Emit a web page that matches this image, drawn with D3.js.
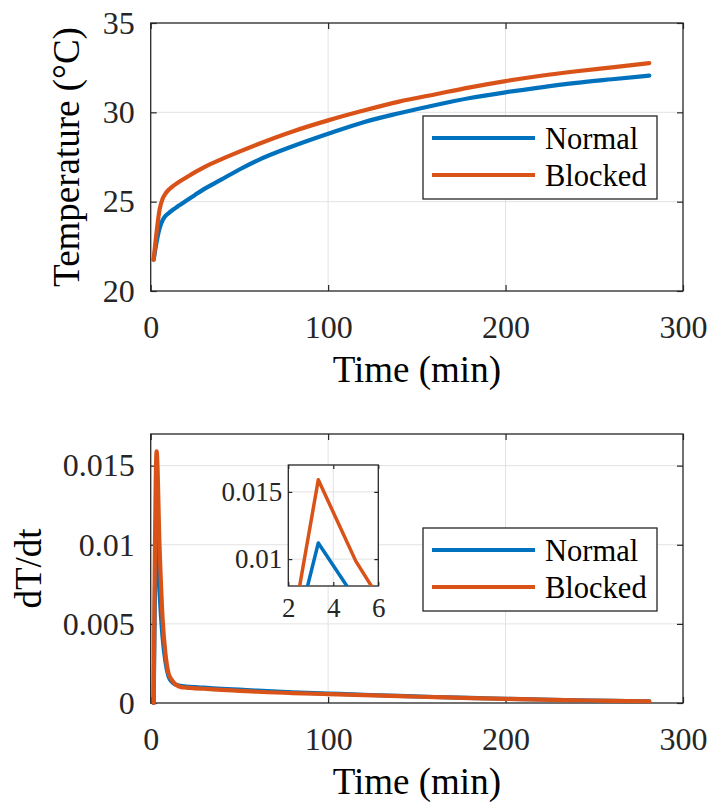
<!DOCTYPE html>
<html>
<head>
<meta charset="utf-8">
<script src="https://cdn.jsdelivr.net/npm/d3@7"></script>
</head>
<body style="margin:0">
<div id="chart"></div>
<script>
const width = 707
const height = 802

// data (time in minutes)
const times = [1.667, 3.333, 5, 6.667, 8.333, 10, 11.667, 13.333, 15, 16.667, 20, 25, 30, 40, 50, 60, 80, 100, 120, 140, 160, 180, 200, 220, 240, 260, 281]
const tempNormal = [21.75, 22.75, 23.5, 23.95, 24.2, 24.35, 24.48, 24.6, 24.72, 24.83, 25.05, 25.38, 25.7, 26.25, 26.8, 27.3, 28.1, 28.8, 29.45, 29.95, 30.4, 30.8, 31.12, 31.4, 31.65, 31.85, 32.05]
const tempBlocked = [21.75, 23.3, 24.55, 25.15, 25.45, 25.65, 25.8, 25.93, 26.05, 26.15, 26.35, 26.65, 26.92, 27.38, 27.8, 28.2, 28.93, 29.55, 30.1, 30.6, 31.0, 31.4, 31.75, 32.05, 32.3, 32.52, 32.75]
const rateNormal = [0, 0.0112, 0.0070, 0.0042, 0.0026, 0.0017, 0.00137, 0.0012, 0.00113, 0.00108, 0.00104, 0.001, 0.00097, 0.0009, 0.00084, 0.00078, 0.00068, 0.0006, 0.00052, 0.00045, 0.00038, 0.00032, 0.00027, 0.00022, 0.00017, 0.00013, 0.0001]
const rateBlocked = [0, 0.0159, 0.00985, 0.0054, 0.0031, 0.0019, 0.0015, 0.00125, 0.0011, 0.00102, 0.00097, 0.00093, 0.0009, 0.00083, 0.00077, 0.00071, 0.00063, 0.00056, 0.0005, 0.00043, 0.00037, 0.00031, 0.00026, 0.00021, 0.00017, 0.00013, 0.0001]

const seriesNames = ["Normal", "Blocked"]
const colors = ["#0072BD", "#D95319"]

const xTicks = [0, 100, 200, 300]
const tempTicks = [20, 25, 30, 35]
const rateTicks = [0, 0.005, 0.01, 0.015]
const insetXTicks = [2, 4, 6]
const insetYTicks = [0.01, 0.015]

const fontName = "Liberation Serif"
const svg = d3.select("div#chart").append("svg").attr("width", width).attr("height", height)
    .attr("font-family", fontName).style("display", "block")

const tickFont = 32
const titleFont = 37
const gridColor = "#e2e2e2"
const boxColor = "#262626"

function drawAxes(g, x, y, xt, yt, opts) {
    const [x0, x1] = x.range()
    const [y0, y1] = y.range()

    // grid
    g.append("g").selectAll("line").data(xt.filter(d => x(d) > x0 + 1 && x(d) < x1 - 1)).enter().append("line")
        .attr("x1", d => x(d)).attr("x2", d => x(d)).attr("y1", y0).attr("y2", y1)
        .attr("stroke", gridColor).attr("stroke-width", 1)
    g.append("g").selectAll("line").data(yt.filter(d => y(d) < y0 - 1 && y(d) > y1 + 1)).enter().append("line")
        .attr("y1", d => y(d)).attr("y2", d => y(d)).attr("x1", x0).attr("x2", x1)
        .attr("stroke", gridColor).attr("stroke-width", 1)

    const tl = opts.tickLen
    const xb = g.append("g").attr("transform", `translate(0,${y0})`)
        .call(d3.axisBottom(x).tickValues(xt).tickSizeInner(-tl).tickSizeOuter(0).tickPadding(opts.xPad).tickFormat(d => String(d)))
    const xtop = g.append("g").attr("transform", `translate(0,${y1})`)
        .call(d3.axisTop(x).tickValues(xt).tickSizeInner(-tl).tickSizeOuter(0).tickFormat(""))
    const yl = g.append("g").attr("transform", `translate(${x0},0)`)
        .call(d3.axisLeft(y).tickValues(yt).tickSizeInner(-tl).tickSizeOuter(0).tickPadding(opts.yPad).tickFormat(d => String(d)))
    const yr = g.append("g").attr("transform", `translate(${x1},0)`)
        .call(d3.axisRight(y).tickValues(yt).tickSizeInner(-tl).tickSizeOuter(0).tickFormat(""))

    for (const a of [xb, xtop, yl, yr]) {
        a.attr("font-family", fontName).attr("font-size", opts.font)
        a.select(".domain").remove()
        a.selectAll(".tick line").attr("stroke", boxColor).attr("stroke-width", 1.2)
        a.selectAll(".tick text").attr("fill", "#262626")
    }

    g.append("rect").attr("x", x0).attr("y", y1).attr("width", x1 - x0).attr("height", y0 - y1)
        .attr("fill", "none").attr("stroke", boxColor).attr("stroke-width", 1.3)
}

function drawLines(g, x, y, seriesList, lw, curve, clipId) {
    const line = d3.line().curve(curve).x(d => x(d[0])).y(d => y(d[1]))
    const lg = g.append("g")
    if (clipId) lg.attr("clip-path", `url(#${clipId})`)
    seriesList.forEach((vals, i) => {
        lg.append("path").datum(times.map((t, j) => [t, vals[j]]))
            .attr("d", line).attr("fill", "none")
            .attr("stroke", colors[i]).attr("stroke-width", lw)
            .attr("stroke-linejoin", "round").attr("stroke-linecap", "round")
    })
}

function addText(g, txt, size) {
    return g.append("text").attr("font-family", fontName).attr("font-size", size).attr("fill", "#000").text(txt)
}

function drawLegend(g, left, topY) {
    const w = 234, h = 83
    g.append("rect").attr("x", left).attr("y", topY).attr("width", w).attr("height", h)
        .attr("fill", "#fff").attr("stroke", boxColor).attr("stroke-width", 1.3)
    seriesNames.forEach((name, i) => {
        const yy = topY + 22 + i * 37
        g.append("line").attr("x1", left + 9).attr("x2", left + 112).attr("y1", yy).attr("y2", yy)
            .attr("stroke", colors[i]).attr("stroke-width", 4)
        addText(g, name, 30.5).attr("x", left + 122).attr("y", yy + 11)
    })
}

const plotLeft = 150.7, plotRight = 683

// ---- top panel: temperature
const topPanel = svg.append("g")
const xTop = d3.scaleLinear().domain([0, 300]).range([plotLeft, plotRight])
const yTop = d3.scaleLinear().domain([20, 35]).range([291, 23])
drawAxes(topPanel, xTop, yTop, xTicks, tempTicks, { tickLen: 6, xPad: 24, yPad: 16, font: tickFont })
drawLines(topPanel, xTop, yTop, [tempNormal, tempBlocked], 4.2, d3.curveMonotoneX)
drawLegend(topPanel, 423, 116)
addText(topPanel, "Time (min)", titleFont).attr("x", (plotLeft + plotRight) / 2).attr("y", 382).attr("text-anchor", "middle")
addText(topPanel, "Temperature (°C)", titleFont).attr("transform", `translate(79,${(291 + 23) / 2}) rotate(-90)`).attr("text-anchor", "middle")

// ---- bottom panel: dT/dt
const botPanel = svg.append("g")
const xBot = d3.scaleLinear().domain([0, 300]).range([plotLeft, plotRight])
const yBot = d3.scaleLinear().domain([0, 0.017]).range([703, 434])
drawAxes(botPanel, xBot, yBot, xTicks, rateTicks, { tickLen: 6, xPad: 24, yPad: 16, font: tickFont })
drawLines(botPanel, xBot, yBot, [rateNormal, rateBlocked], 4.2, d3.curveMonotoneX)
drawLegend(botPanel, 423, 528)
addText(botPanel, "Time (min)", titleFont).attr("x", (plotLeft + plotRight) / 2).attr("y", 794).attr("text-anchor", "middle")
addText(botPanel, "dT/dt", titleFont).attr("transform", `translate(41,${(703 + 434) / 2}) rotate(-90)`).attr("text-anchor", "middle")

// ---- inset zoom on the peak
const insPanel = svg.append("g")
const xIns = d3.scaleLinear().domain([2, 6]).range([288.3, 378.3])
const yIns = d3.scaleLinear().domain([0.008, 0.017]).range([586, 465])
insPanel.append("rect").attr("x", 288.3).attr("y", 465).attr("width", 90).attr("height", 121).attr("fill", "#fff")
svg.append("defs").append("clipPath").attr("id", "insetClip")
    .append("rect").attr("x", 288.3).attr("y", 465).attr("width", 90).attr("height", 121)
drawAxes(insPanel, xIns, yIns, insetXTicks, insetYTicks, { tickLen: 4, xPad: 12, yPad: 6, font: 27 })
drawLines(insPanel, xIns, yIns, [rateNormal, rateBlocked], 3.5, d3.curveLinear, "insetClip")
</script>
</body>
</html>
